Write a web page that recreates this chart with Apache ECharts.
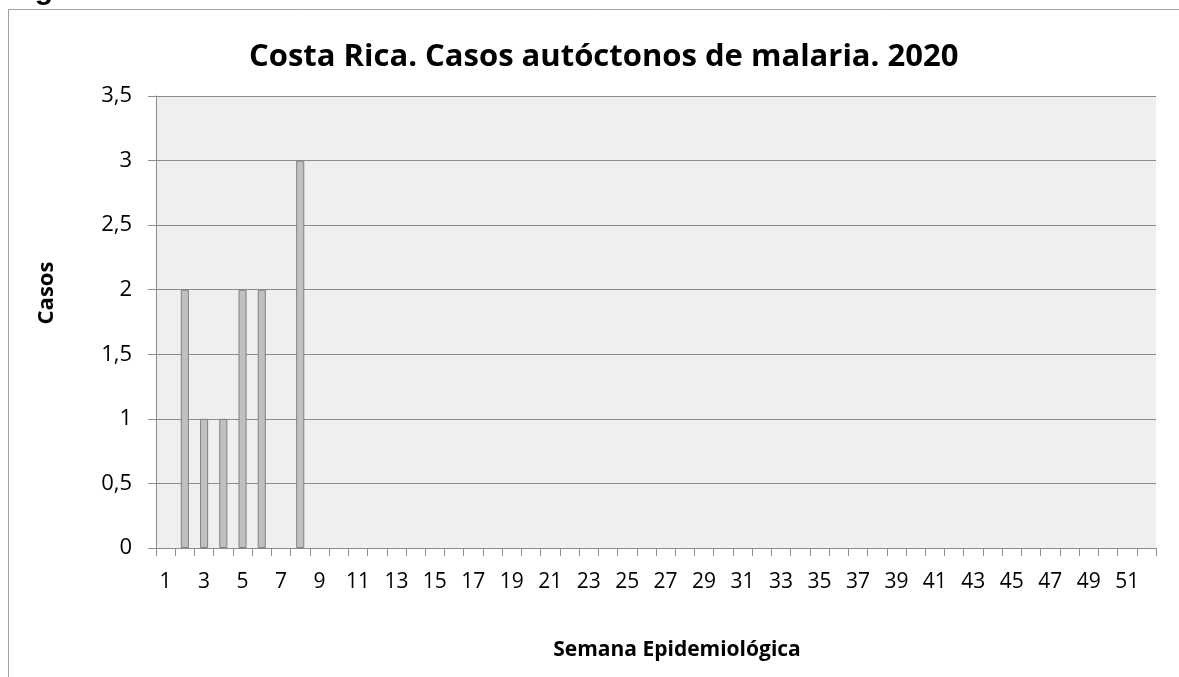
<!DOCTYPE html>
<html>
<head>
<meta charset="utf-8">
<script src="https://cdn.jsdelivr.net/npm/echarts@6/dist/echarts.min.js"></script>
<style>html,body{margin:0;padding:0;background:#fff;}#c{width:1179px;height:677px;}</style>
</head>
<body>
<div id="c"></div>
<script>
const weeks = Array.from({length: 52}, (_, i) => String(i + 1));
const cases = [0, 2, 1, 1, 2, 2, 0, 3, 0, 0, 0, 0, 0, 0, 0, 0, 0, 0, 0, 0, 0, 0, 0, 0, 0, 0, 0, 0, 0, 0, 0, 0, 0, 0, 0, 0, 0, 0, 0, 0, 0, 0, 0, 0, 0, 0, 0, 0, 0, 0, 0, 0];
const titleText = 'Costa Rica. Casos autóctonos de malaria. 2020';
const yName = 'Casos';
const xName = 'Semana Epidemiológica';
const figureLabel = 'Figura 1';

const chart = echarts.init(document.getElementById('c'));
const font = '"Open Sans", "Noto Sans", sans-serif';
chart.setOption({
  animation: false,
  backgroundColor: '#ffffff',
  graphic: [
    {type: 'rect', shape: {x: 8.5, y: 9.5, width: 1200, height: 700}, style: {fill: 'none', stroke: '#a0a0a0', lineWidth: 1}, z: 0},
    {type: 'text', left: 8, top: -24, style: {text: figureLabel, font: 'bold 30px "Liberation Sans", Arial, sans-serif', fill: '#000'}}
  ],
  title: {
    text: titleText,
    left: 244,
    top: 37,
    textStyle: {fontFamily: font, fontWeight: 'bold', fontSize: 31, color: '#000'}
  },
  grid: {left: 156, right: 23, top: 96, bottom: 129, show: true, backgroundColor: '#efefef', borderWidth: 0, containLabel: false, outerBoundsMode: 'none'},
  xAxis: {
    type: 'category',
    data: weeks,
    boundaryGap: true,
    name: xName,
    nameLocation: 'middle',
    nameGap: 92,
    nameTextStyle: {fontFamily: font, fontWeight: 'bold', fontSize: 21, color: '#000', padding: [0, 0, 0, 42]},
    axisLine: {show: true, lineStyle: {color: '#8c8c8c', width: 1}},
    axisTick: {show: true, interval: 0, length: 8, lineStyle: {color: '#8c8c8c'}},
    axisLabel: {interval: 1, fontFamily: font, fontSize: 21, color: '#000', margin: 24},
    splitLine: {show: false}
  },
  yAxis: {
    type: 'value',
    min: 0,
    max: 3.5,
    interval: 0.5,
    name: yName,
    nameLocation: 'middle',
    nameGap: 98,
    nameRotate: 90,
    nameTextStyle: {fontFamily: font, fontWeight: 'bold', fontSize: 22, color: '#000', padding: [0, 0, 0, 58]},
    axisLine: {show: true, lineStyle: {color: '#8c8c8c', width: 1}},
    axisTick: {show: true, length: 8, lineStyle: {color: '#8c8c8c'}},
    axisLabel: {fontFamily: font, fontSize: 22, color: '#000', margin: 24, formatter: v => String(v).replace('.', ',')},
    splitLine: {show: true, lineStyle: {color: '#8c8c8c', width: 1}}
  },
  series: [{
    type: 'bar',
    data: cases.map(v => v === 0 ? {value: v, itemStyle: {borderWidth: 0, opacity: 0}} : v),
    barWidth: '42%',
    itemStyle: {color: '#c0c0c0', borderColor: '#808080', borderWidth: 1}
  }]
});
</script>
</body>
</html>
